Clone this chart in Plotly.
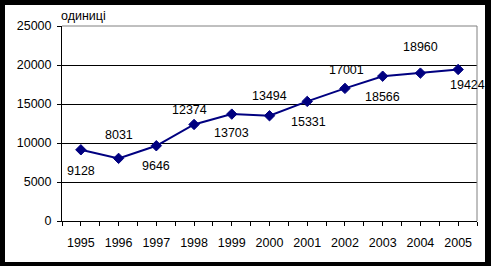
import plotly.graph_objects as go

years = [1995, 1996, 1997, 1998, 1999, 2000, 2001, 2002, 2003, 2004, 2005]
values = [9128, 8031, 9646, 12374, 13703, 13494, 15331, 17001, 18566, 18960, 19424]
y_ticks = [0, 5000, 10000, 15000, 20000, 25000]
y_title = "одиниці"

# label offsets (pixels) relative to each point
label_dx = [0, 0, 0, -5, 0, 0, 1, 2, 0, 0, 9]
label_dy = [-21, 23, -20, 14, -19, 20, -21, 18, -21, 26, -16]

W, H = 491, 266
L, R, T, B = 62, 14, 26, 45
pw, ph = W - L - R, H - T - B

def px_x(px):
    return (px - L) / pw

def px_y(py):
    return (H - B - py) / ph

FONT = "Liberation Sans, Arial, sans-serif"

fig = go.Figure()
fig.add_trace(go.Scatter(
    x=years, y=values, mode="lines+markers",
    line=dict(color="#000080", width=2),
    marker=dict(symbol="diamond", size=8, color="#000080",
                line=dict(color="#000080", width=1)),
    hoverinfo="skip", showlegend=False,
))

annotations = []
for x, v, dx, dy in zip(years, values, label_dx, label_dy):
    annotations.append(dict(x=x, y=v, xref="x", yref="y", text=str(v),
                            showarrow=False, xshift=dx, yshift=dy,
                            font=dict(family=FONT, size=12.5, color="black")))
annotations.append(dict(x=px_x(59), y=px_y(16), xref="paper", yref="paper",
                        xanchor="left", yanchor="middle", text=y_title,
                        showarrow=False,
                        font=dict(family=FONT, size=12.5, color="black")))

shapes = [
    dict(type="rect", xref="paper", yref="paper", layer="below",
         x0=px_x(5), x1=px_x(485), y0=px_y(262), y1=px_y(5),
         fillcolor="white", line=dict(width=0)),
    dict(type="line", xref="paper", yref="paper", layer="above",
         x0=0, x1=1, y0=1, y1=1, line=dict(color="#808080", width=1)),
    dict(type="line", xref="paper", yref="paper", layer="above",
         x0=1, x1=1, y0=0, y1=1, line=dict(color="#808080", width=1)),
]

fig.update_layout(
    width=W, height=H,
    margin=dict(l=L, r=R, t=T, b=B, pad=0),
    paper_bgcolor="black", plot_bgcolor="white",
    font=dict(family=FONT, size=12.5, color="black"),
    annotations=annotations, shapes=shapes,
    xaxis=dict(
        range=[years[0] - 0.5, years[-1] + 0.5],
        tickvals=years, ticktext=[str(y) for y in years],
        ticks="outside", ticklen=4, tickcolor="black", tickwidth=1,
        ticklabelstandoff=6,
        minor=dict(tick0=years[0] - 0.5, dtick=1, ticks="outside",
                   ticklen=4, tickcolor="black", showgrid=False),
        showline=True, linecolor="black", linewidth=1,
        showgrid=False, zeroline=False, fixedrange=True,
    ),
    yaxis=dict(
        range=[0, 25000], tickvals=y_ticks,
        ticktext=[str(t) for t in y_ticks],
        ticks="outside", ticklen=4, tickcolor="black", tickwidth=1,
        ticklabelstandoff=3,
        showline=True, linecolor="black", linewidth=1,
        showgrid=True, gridcolor="black", gridwidth=1,
        zeroline=False, fixedrange=True,
    ),
)

fig.write_html("out.html")
